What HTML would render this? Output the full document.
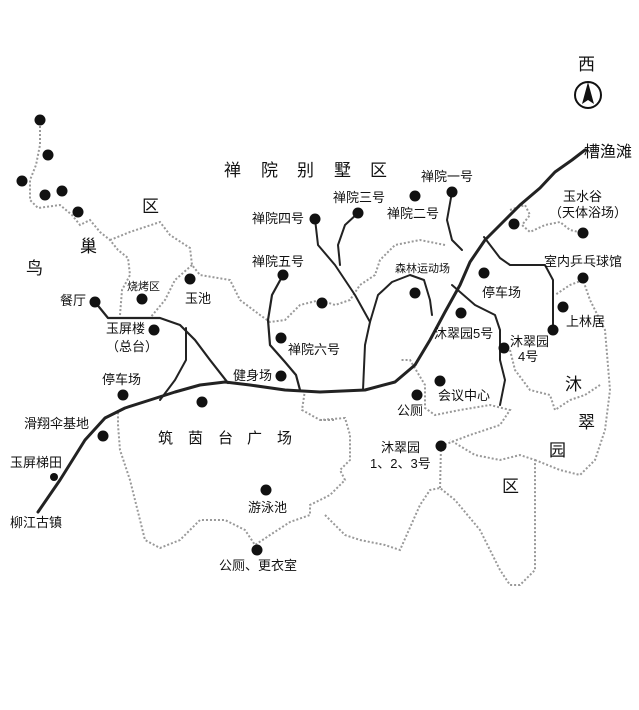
<!DOCTYPE html>
<html><head><meta charset="utf-8"><style>
html,body{margin:0;padding:0;background:#fff;}
svg{display:block;}
text{font-family:"Liberation Sans","Noto Sans CJK SC",sans-serif;fill:#111;}
.s{font-size:13px;}
.b{font-size:17px;}
</style></head><body>
<svg width="639" height="710" viewBox="0 0 639 710" xmlns="http://www.w3.org/2000/svg">
<g fill="none" stroke="#999" stroke-width="2" stroke-dasharray="2,2">
<path d="M40,122 L40,145 L36,165 L30,180 L30,200 L38,208 L60,205 L72,215 L80,225 L90,220 L100,232 L110,240 L118,250 L128,258 L130,275 L122,290 L120,315"/>
<path d="M110,240 L130,232 L160,222 L170,235 L190,248 L192,265 L200,275 L230,280 L240,300 L260,315 L270,322 L285,320 L300,305 L320,300 L335,305 L350,300 L360,285 L375,275 L380,260 L395,245 L420,240 L445,245"/>
<path d="M192,265 L175,280 L165,300 L150,318"/>
<path d="M305,390 L302,410 L320,420 L345,418 L350,435 L350,460 L340,470 L345,480 L330,495 L310,505 L310,515 L290,522 L270,535 L255,545 L245,530 L225,520 L200,520 L180,540 L160,548 L145,540 L140,520 L130,480 L120,450 L118,425 L118,410"/>
<path d="M320,420 L335,420"/>
<path d="M325,515 L345,535 L360,540 L385,545 L400,550 L420,505 L430,490 L440,488 L455,500 L480,530 L500,570 L510,585 L520,585 L535,570 L535,530 L535,460 L520,455 L500,460 L475,455 L450,440"/>
<path d="M441,446 L470,435 L500,425 L510,410 L490,405 L460,410 L435,415 L425,408 L425,385 L410,360 L400,360"/>
<path d="M441,446 L440,490"/>
<path d="M535,460 L560,470 L580,475 L595,460 L605,430 L610,390 L605,330 L590,300 L583,280 L570,285 L555,295"/>
<path d="M510,350 L515,370 L530,390 L550,395 L555,410 L570,400 L585,395 L600,385"/>
<path d="M510,210 L525,205 L530,215 L522,225 L530,232 L545,225 L560,222 L570,230 L583,233"/>
</g>
<g fill="none" stroke="#222" stroke-linecap="round" stroke-linejoin="round">
<path stroke-width="3" d="M38,512 L60,480 L85,440 L105,418 L125,408 L150,400 L175,392 L200,385 L225,382 L250,385 L285,390 L320,392 L365,390 L395,382 L415,365 L430,340 L445,312 L460,285 L470,262 L485,240 L505,220 L520,205 L540,188 L555,172 L572,160 L585,150"/>
<path stroke-width="2.2" d="M95,302 L108,318 L130,318 L160,318 L180,325 L195,340 L210,360 L228,383"/>
<path stroke-width="2" d="M186,328 L186,360 L175,380 L160,400"/>
<path stroke-width="2.2" d="M283,275 L272,295 L268,320 L270,345 L285,362 L296,375 L300,390"/>
<path stroke-width="2" d="M315,219 L318,245 L335,265 L355,295 L370,322 L365,345 L363,390"/>
<path stroke-width="2" d="M358,213 L345,225 L338,245 L340,265"/>
<path stroke-width="2" d="M370,322 L378,295 L392,282 L410,275 L424,280 L430,300 L432,315"/>
<path stroke-width="2" d="M452,192 L447,220 L452,240 L462,250"/>
<path stroke-width="2" d="M484,237 L500,258 L510,265 L545,265 L553,280 L553,330"/>
<path stroke-width="2" d="M452,285 L475,305 L495,315 L500,330 L500,360 L505,380 L500,405"/>
</g>
<g fill="#111">
<circle cx="40" cy="120" r="5.5"/><circle cx="48" cy="155" r="5.5"/><circle cx="22" cy="181" r="5.5"/><circle cx="45" cy="195" r="5.5"/><circle cx="62" cy="191" r="5.5"/><circle cx="78" cy="212" r="5.5"/>
<circle cx="95" cy="302" r="5.5"/><circle cx="142" cy="299" r="5.5"/><circle cx="190" cy="279" r="5.5"/><circle cx="154" cy="330" r="5.5"/><circle cx="123" cy="395" r="5.5"/><circle cx="103" cy="436" r="5.5"/><circle cx="202" cy="402" r="5.5"/><circle cx="54" cy="477" r="4"/>
<circle cx="315" cy="219" r="5.5"/><circle cx="283" cy="275" r="5.5"/><circle cx="281" cy="338" r="5.5"/><circle cx="281" cy="376" r="5.5"/><circle cx="358" cy="213" r="5.5"/><circle cx="415" cy="196" r="5.5"/><circle cx="452" cy="192" r="5.5"/><circle cx="322" cy="303" r="5.5"/><circle cx="415" cy="293" r="5.5"/>
<circle cx="484" cy="273" r="5.5"/><circle cx="461" cy="313" r="5.5"/><circle cx="504" cy="348" r="5.5"/><circle cx="440" cy="381" r="5.5"/><circle cx="417" cy="395" r="5.5"/><circle cx="441" cy="446" r="5.5"/><circle cx="266" cy="490" r="5.5"/><circle cx="257" cy="550" r="5.5"/>
<circle cx="514" cy="224" r="5.5"/><circle cx="583" cy="233" r="5.5"/><circle cx="583" cy="278" r="5.5"/><circle cx="563" cy="307" r="5.5"/><circle cx="553" cy="330" r="5.5"/>
</g>
<circle cx="588" cy="95" r="13" fill="none" stroke="#111" stroke-width="2"/>
<path d="M588,82 L582,104 L588,100 L594,104 Z" fill="#111"/>
<text x="578" y="70" class="b">西</text>
<g class="b">
<text x="224" y="176">禅</text><text x="261" y="176">院</text><text x="297" y="176">别</text><text x="334" y="176">墅</text><text x="370" y="176">区</text>
<text x="142" y="212">区</text><text x="80" y="252">巢</text><text x="26" y="274">鸟</text>
<text x="565" y="390">沐</text><text x="578" y="428">翠</text><text x="549" y="456">园</text><text x="502" y="492">区</text>
</g>
<g style="font-size:15px">
<text x="158" y="443">筑</text><text x="188" y="443">茵</text><text x="218" y="443">台</text><text x="247" y="443">广</text><text x="277" y="443">场</text>
</g>
<g class="s">
<text x="584" y="157" style="font-size:16px">槽渔滩</text>
<text x="421" y="181">禅院一号</text>
<text x="333" y="202">禅院三号</text>
<text x="387" y="218">禅院二号</text>
<text x="252" y="223">禅院四号</text>
<text x="252" y="266">禅院五号</text>
<text x="288" y="354">禅院六号</text>
<text x="233" y="380">健身场</text>
<text x="395" y="272" style="font-size:11px">森林运动场</text>
<text x="482" y="297">停车场</text>
<text x="434" y="338">沐翠园5号</text>
<text x="510" y="346">沐翠园</text><text x="518" y="361">4号</text>
<text x="438" y="400">会议中心</text>
<text x="397" y="415">公厕</text>
<text x="381" y="452">沐翠园</text><text x="370" y="468">1、2、3号</text>
<text x="563" y="201">玉水谷</text><text x="549" y="217">（天体浴场）</text>
<text x="544" y="266">室内乒乓球馆</text>
<text x="566" y="326">上林居</text>
<text x="127" y="290" style="font-size:11px">烧烤区</text>
<text x="185" y="303">玉池</text>
<text x="60" y="305">餐厅</text>
<text x="106" y="333">玉屏楼</text><text x="106" y="351">（总台）</text>
<text x="102" y="384">停车场</text>
<text x="24" y="428">滑翔伞基地</text>
<text x="10" y="467">玉屏梯田</text>
<text x="10" y="527">柳江古镇</text>
<text x="248" y="512">游泳池</text>
<text x="219" y="570">公厕、更衣室</text>
</g>
</svg>
</body></html>
